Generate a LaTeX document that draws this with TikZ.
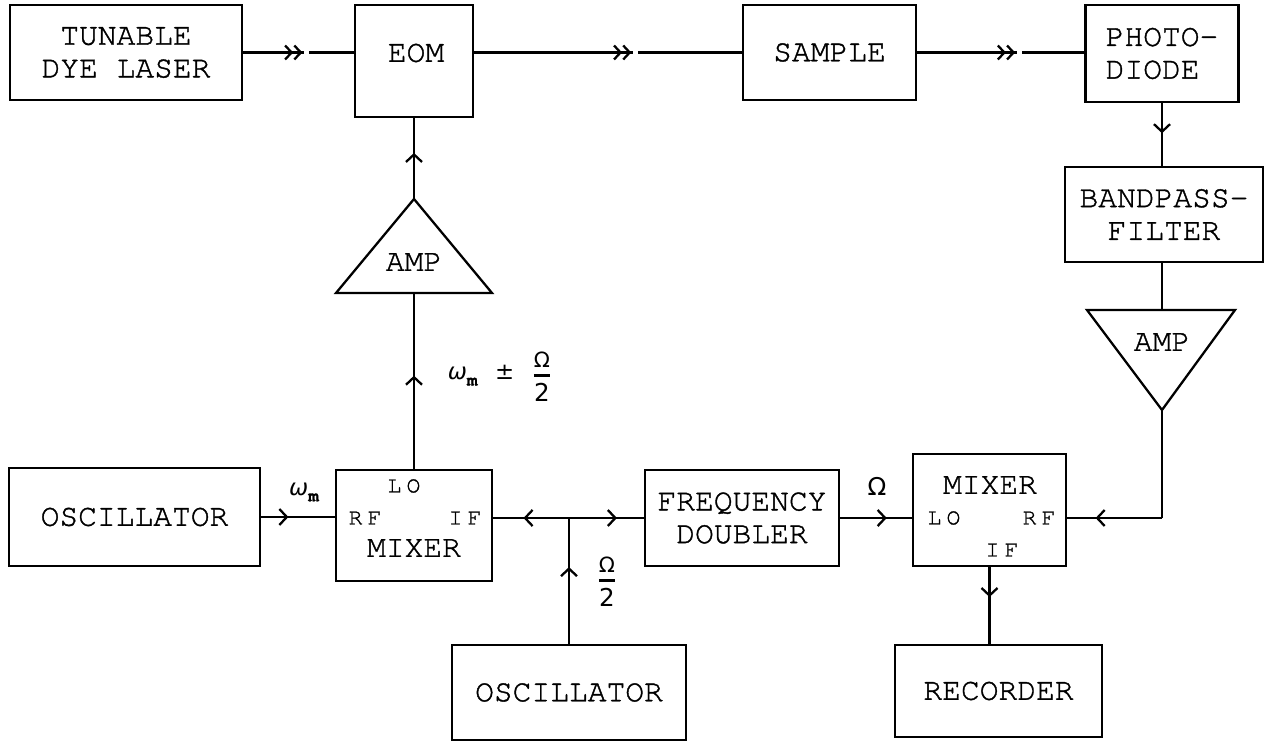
\documentclass[tikz,border=0pt]{standalone}
\usepackage{fontspec}
\usetikzlibrary{arrows.meta,decorations.markings}
\newfontfamily\labfont{texgyrecursor-regular.otf}[BoldFont=texgyrecursor-bold.otf, FakeBold=1.2]
\newfontfamily\portfont{texgyrecursor-regular.otf}[LetterSpace=23, FakeBold=1.2]
\newfontfamily\greekfont{DejaVu Sans}
\newcommand{\boxfont}{\labfont\fontsize{17.8}{18.6}\selectfont}
\newcommand{\portsize}{\portfont\fontsize{13}{13}\selectfont}
\newcommand{\fracO}{\raisebox{0pt}[\height][1.5pt]{\greekfont\fontsize{12}{12}\selectfont Ω}}
\newcommand{\fractwo}{\raisebox{0pt}[12.5pt]{\greekfont\fontsize{14}{14}\selectfont 2}}
\newcommand{\halfomega}{${\hbox{\fracO}\above 1.8pt\hbox{\fractwo}}$}
\newcommand{\omegam}{{\greekfont\itshape\fontsize{13}{13}\selectfont ω}\raisebox{-0.8ex}{\labfont\bfseries\fontsize{10}{10}\selectfont m}}

\begin{document}
\begin{tikzpicture}[
	line width=1.3pt,
	blk/.style={draw, inner sep=0pt, align=center, font=\boxfont},
	port/.style={inner sep=0pt, font=\portsize},
	fwd/.style={postaction={decorate}, decoration={markings,
		mark=at position #1 with {\arrow{Straight Barb[length=1.5mm,width=3.2mm]}}}},
	beam/.style={postaction={decorate}, decoration={markings,
		mark=at position #1 with {\fill[white] (0.03,-0.12) rectangle (0.13,0.12);
		\arrow{Straight Barb[length=1.3mm,width=2.8mm] Straight Barb[length=1.3mm,width=2.8mm]}}}}
]
	\useasboundingbox (0,0) rectangle (25.68,-14.84);

	% optical path
	\node[blk, minimum width=4.64cm, minimum height=1.90cm] (laser) at (2.52,-1.05) {TUNABLE\\DYE LASER};
	\node[blk, minimum width=2.36cm, minimum height=2.24cm] (eom) at (8.28,-1.22) {};
	\node[font=\boxfont] (eomtext) at (8.32,-1.06) {EOM};
	\node[blk, minimum width=3.46cm, minimum height=1.90cm] (sample) at (16.59,-1.05) {SAMPLE};
	\node[blk, minimum width=3.06cm, minimum height=1.94cm, align=left] (photo) at (23.24,-1.07) {PHOTO-\\DIODE};
	\node[blk, minimum width=3.96cm, minimum height=1.90cm] (bandpass) at (23.28,-4.29) {BANDPASS-\\FILTER};

	\draw[beam=0.535] (laser.east) -- (laser.east -| eom.west);
	\draw[beam=0.587] (laser.east -| eom.east) -- (laser.east -| sample.west);
	\draw[beam=0.586] (sample.east) -- (sample.east -| photo.west);
	\draw[fwd=0.48] (photo.south) -- (photo.south |- bandpass.north);

	% amplifiers
	\coordinate (amptop) at (23.24,-6.20);
	\coordinate (amptip) at (23.24,-8.20);
	\draw (21.74,-6.20) -- (24.70,-6.20) -- (amptip) -- cycle;
	\node[font=\boxfont] (amptext) at (23.24,-6.84) {AMP};
	\draw (photo.south |- bandpass.south) -- (amptop);

	\coordinate (modtip) at (8.28,-3.98);
	\coordinate (modbase) at (8.28,-5.86);
	\draw (6.72,-5.86) -- (modtip) -- (9.84,-5.86) -- cycle;
	\node[font=\boxfont] (modtext) at (8.28,-5.24) {AMP};
	\draw[fwd=0.57] (modtip) -- (modtip |- eom.south);

	% electronics
	\node[blk, minimum width=5.02cm, minimum height=1.96cm] (oscA) at (2.69,-10.34) {OSCILLATOR};
	\node[blk, minimum width=3.12cm, minimum height=2.22cm] (mixA) at (8.28,-10.51) {};
	\node[port] (mixAlo) at (8.08,-9.72) {LO};
	\node[port] (mixArf) at (7.30,-10.36) {RF};
	\node[port] (mixAif) at (9.30,-10.36) {IF};
	\node[font=\boxfont] (mixAtext) at (8.28,-10.96) {MIXER};

	\node[blk, minimum width=3.88cm, minimum height=1.92cm] (doubler) at (14.84,-10.36) {FREQUENCY\\DOUBLER};
	\node[blk, minimum width=4.68cm, minimum height=1.90cm] (oscB) at (11.38,-13.85) {OSCILLATOR};

	\node[blk, minimum width=3.06cm, minimum height=2.24cm] (mixB) at (19.79,-10.20) {};
	\node[font=\boxfont] (mixBtext) at (19.80,-9.70) {MIXER};
	\node[port] (mixBlo) at (18.88,-10.36) {LO};
	\node[port] (mixBrf) at (20.78,-10.36) {RF};
	\node[port] (mixBif) at (20.04,-11.00) {IF};
	\node[blk, minimum width=4.14cm, minimum height=1.84cm] (recorder) at (19.97,-13.82) {RECORDER};

	\coordinate (split) at (oscB.north |- doubler.west);
	\coordinate (bend) at (amptip |- doubler.west);

	\draw[fwd=0.37] (oscA.east) -- (oscA.east -| mixA.west);
	\draw[fwd=0.53] (mixA.north) -- (modbase);
	\draw[fwd=0.61] (oscB.north) -- (split);
	\draw[fwd=0.6] (split) -- (split -| mixA.east);
	\draw[fwd=0.64] (split) -- (doubler.west);
	\draw[fwd=0.65] (doubler.east) -- (doubler.east -| mixB.west);
	\draw (amptip) -- (bend);
	\draw[fwd=0.7] (bend) -- (bend -| mixB.east);
	\draw[fwd=0.39] (mixB.south) -- (mixB.south |- recorder.north);

	% frequency labels
	\node (wm) at (6.08,-9.84) {\omegam};
	\node (halfO) at (12.14,-11.64) {\halfomega};
	\node (bigO) at (17.54,-9.72) {\greekfont\fontsize{14}{14}\selectfont Ω};
	\node (sidebands) at (10.0,-7.54) {\omegam\hspace{1em}{\greekfont\fontsize{13}{13}\selectfont ±}\hspace{1em}\halfomega};
\end{tikzpicture}
\end{document}
